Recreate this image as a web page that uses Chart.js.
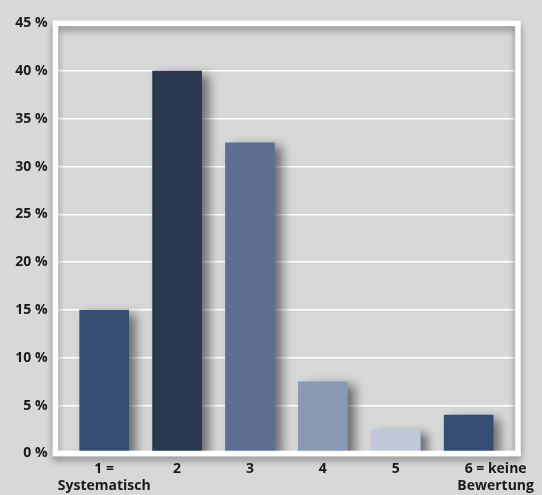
<!DOCTYPE html>
<html>
<head>
<meta charset="utf-8">
<script src="https://cdn.jsdelivr.net/npm/chart.js@4"></script>
<style>
  html, body { margin: 0; padding: 0; background: #d8d8d8; }
  #wrap { width: 542px; height: 495px; }
</style>
</head>
<body>
<div id="wrap"><canvas id="c"></canvas></div>
<script>
// Rating categories (1 = systematic ... 6 = no rating) and their shares in percent
const categories = [['1 =', 'Systematisch'], '2', '3', '4', '5', ['6 = keine', 'Bewertung']];
const shares = [15, 40, 32.5, 7.5, 2.5, 4];
const barColors = ['#354f73', '#29384f', '#5e6f92', '#8a9ab5', '#c1c8d9', '#354f73'];
const yTicks = [0, 5, 10, 15, 20, 25, 30, 35, 40, 45];

const FONT = { family: '"Open Sans", sans-serif', weight: '700', size: 14 };

// White frame around the plot area, with a soft shadow underneath
const framePlugin = {
  id: 'frame',
  beforeDatasetsDraw(chart) {
    const a = chart.chartArea, ctx = chart.ctx;
    ctx.save();
    ctx.shadowColor = 'rgba(0,0,0,0.4)';
    ctx.shadowBlur = 7;
    ctx.shadowOffsetY = 4;
    ctx.strokeStyle = '#ffffff';
    ctx.lineWidth = 5.5;
    ctx.strokeRect(a.left, a.top, a.right - a.left, a.bottom - a.top);
    ctx.restore();
  },
  afterDatasetsDraw(chart) {
    const a = chart.chartArea, ctx = chart.ctx;
    ctx.save();
    ctx.strokeStyle = '#ffffff';
    ctx.lineWidth = 5.5;
    ctx.beginPath();
    ctx.moveTo(a.left - 2.75, a.bottom);
    ctx.lineTo(a.right + 2.75, a.bottom);
    ctx.stroke();
    ctx.restore();
  }
};

// Drop shadow cast by the bars to the lower right
const barShadow = {
  id: 'barShadow',
  beforeDatasetDraw(chart) {
    const ctx = chart.ctx;
    ctx.save();
    ctx.shadowColor = 'rgba(0,0,0,0.5)';
    ctx.shadowBlur = 10;
    ctx.shadowOffsetX = 7;
    ctx.shadowOffsetY = 4;
  },
  afterDatasetDraw(chart) {
    chart.ctx.restore();
  }
};

new Chart(document.getElementById('c'), {
  type: 'bar',
  data: {
    datasets: [{
      data: shares.map((v, i) => ({ x: i + 1, y: v })),
      backgroundColor: barColors,
      borderWidth: 0,
      barThickness: 49
    }]
  },
  options: {
    responsive: true,
    maintainAspectRatio: false,
    animation: false,
    events: [],
    layout: { padding: { left: 0, right: 21.5, top: 23.3, bottom: 0 } },
    plugins: { legend: { display: false }, tooltip: { enabled: false } },
    scales: {
      x: {
        type: 'linear',
        offset: false,
        min: 0.332,
        max: 6.676,
        grid: { display: false, drawTicks: false },
        border: { display: false },
        afterBuildTicks(scale) {
          // one tick per category; the last two-line label is nudged toward the edge
          scale.ticks = categories.map((c, i) => ({ value: i + 1 + (i === categories.length - 1 ? 0.37 : 0) }));
        },
        afterFit(scale) { scale.height = 41.6; },
        ticks: {
          autoSkip: false,
          maxRotation: 0,
          padding: 7,
          color: '#1a1a1a',
          font: Object.assign({ lineHeight: 17 / 14 }, FONT),
          callback: (v) => categories[Math.round(v) - 1]
        }
      },
      y: {
        min: 0,
        max: 45,
        grid: { color: '#ffffff', lineWidth: 1.6, drawTicks: false },
        border: { display: false },
        afterBuildTicks(scale) { scale.ticks = yTicks.map(v => ({ value: v })); },
        afterFit(scale) { scale.width = 55.5; },
        ticks: {
          padding: 8,
          color: '#1a1a1a',
          font: FONT,
          callback: (v) => v + ' %'
        }
      }
    }
  },
  plugins: [framePlugin, barShadow]
});
</script>
</body>
</html>
